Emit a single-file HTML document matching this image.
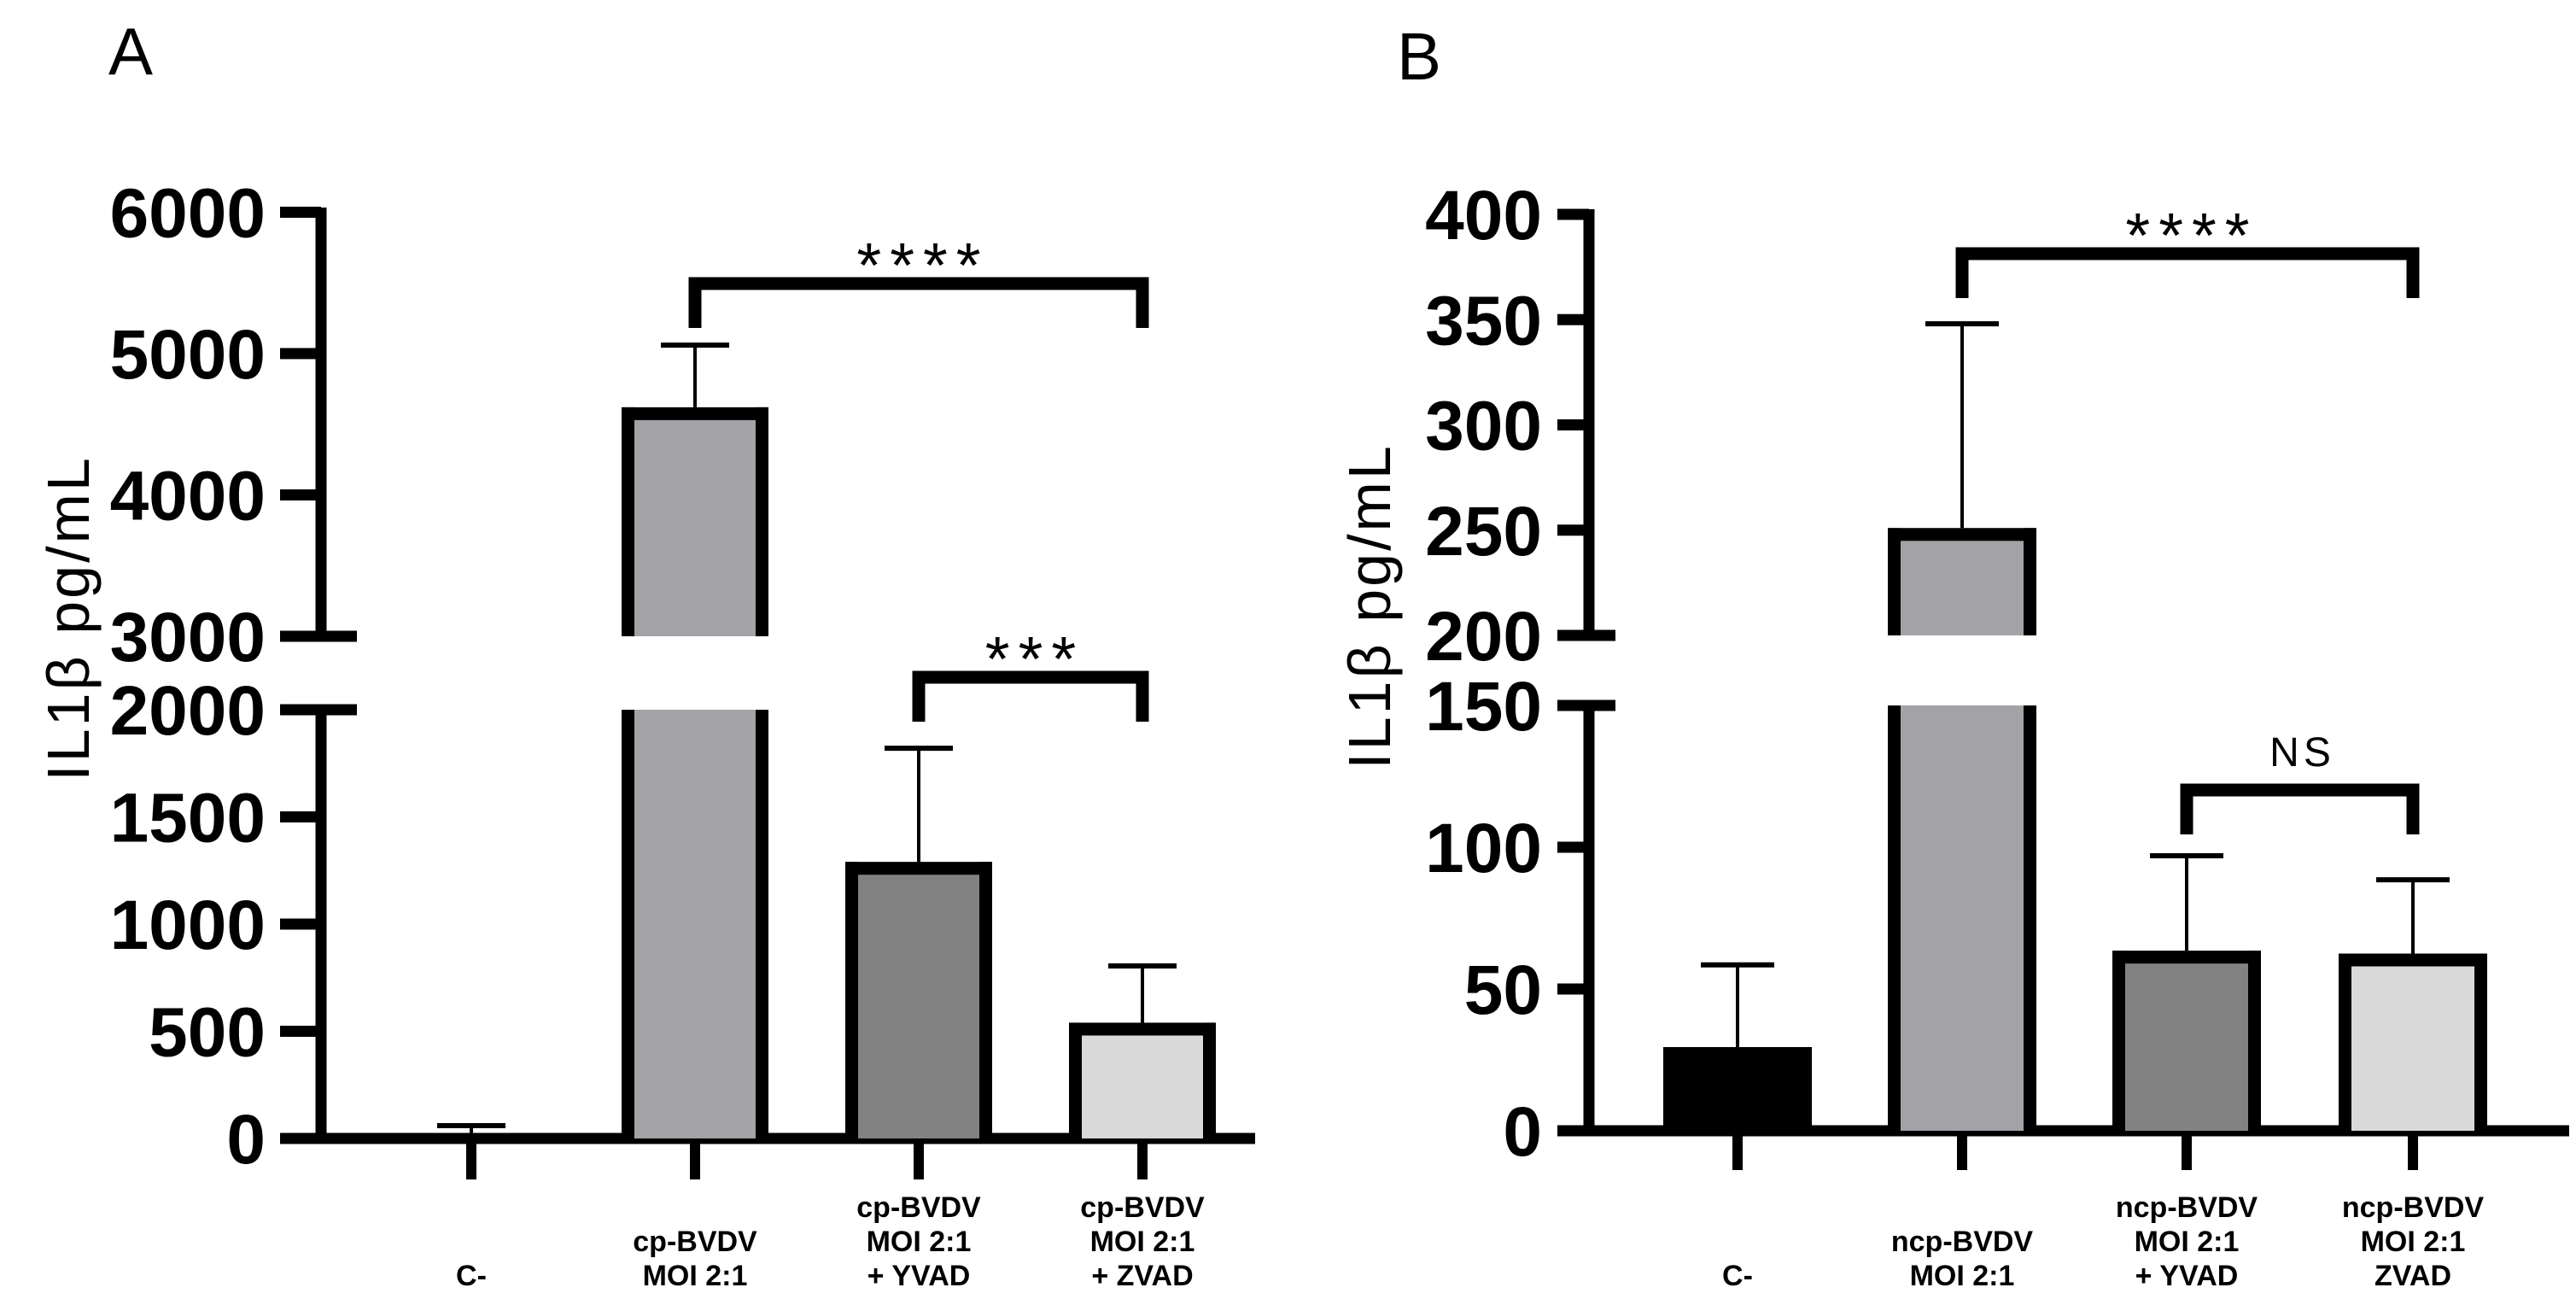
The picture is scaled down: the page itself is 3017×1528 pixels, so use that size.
<!DOCTYPE html>
<html><head><meta charset="utf-8"><style>
html,body{margin:0;padding:0;background:#fff;}
svg{display:block;font-family:"Liberation Sans",Arial,sans-serif;}
</style></head><body>
<svg id="fig" width="3017" height="1528" viewBox="0 0 3017 1528" xmlns="http://www.w3.org/2000/svg">
<text x="127" y="87" font-size="78">A</text>
<text x="1636" y="93" font-size="78">B</text>
<text transform="translate(104,724) rotate(-90)" text-anchor="middle" font-size="70" letter-spacing="3">IL1β pg/mL</text>
<text transform="translate(1628,710) rotate(-90)" text-anchor="middle" font-size="70" letter-spacing="3">IL1β pg/mL</text>
<g id="gA"></g><g id="gB"></g>
</svg>
<script>
// Panel A data
const catsA = [["C-"],["cp-BVDV","MOI 2:1"],["cp-BVDV","MOI 2:1","+ YVAD"],["cp-BVDV","MOI 2:1","+ ZVAD"]];
const valsA = [20, 4620, 1290, 540];
const errA = [60, 5060, 1820, 805];
const ticksA = [0,500,1000,1500,2000,3000,4000,5000,6000];
// Panel B data
const catsB = [["C-"],["ncp-BVDV","MOI 2:1"],["ncp-BVDV","MOI 2:1","+ YVAD"],["ncp-BVDV","MOI 2:1","ZVAD"]];
const valsB = [29.5, 251, 63.5, 62.5];
const errB = [58.5, 348, 97, 88.5];
const ticksB = [0,50,100,150,200,250,300,350,400];
const fills = ["#000000","#a3a2a7","#828282","#d9d9d9"];
const sigA = [[1,3,"****"],[2,3,"***"]];
const sigB = [[1,3,"****"],[2,3,"NS"]];

const NS="http://www.w3.org/2000/svg";
function mk(parent,tag,attrs){const e=document.createElementNS(NS,tag);for(const k in attrs)e.setAttribute(k,attrs[k]);parent.appendChild(e);return e;}

function drawPanel(g, cfg){
  const {cats,vals,errs,ticks,sig,y,axisX,tickL,base,breakLo,breakHi,lowMax,hiMin,topY,xs,bw,xEnd,capW,tickDown,labelX,bracketY} = cfg;
  const LW=13;
  let a=mk(g,'line',{x1:axisX,y1:topY-6,x2:axisX,y2:breakHi,stroke:'#000','stroke-width':LW});
  
  a=mk(g,'line',{x1:axisX,y1:breakLo,x2:axisX,y2:base,stroke:'#000','stroke-width':LW});
  
  a=mk(g,'line',{x1:tickL,y1:base,x2:xEnd,y2:base,stroke:'#000','stroke-width':LW});
  
  ticks.forEach(t=>{
    const ty=y(t);
    const brk=(t===lowMax||t===hiMin);
    const tl=mk(g,'line',{x1:tickL,y1:ty,x2:brk?axisX+(axisX-tickL)-6:axisX,y2:ty,stroke:'#000','stroke-width':LW});
    
    const tx=mk(g,'text',{x:labelX,y:ty+29,'text-anchor':'end','font-size':82,'font-weight':'bold'});
    tx.textContent=t;
    
  });
  vals.forEach((v,i)=>{
    const cx=xs[i], x0=cx-bw/2, x1=cx+bw/2, B=15;
    const bg=mk(g,'g',{});
    
    const ey=y(errs[i]), vy=y(v);
    const e1=mk(bg,'line',{x1:cx,y1:vy,x2:cx,y2:ey,stroke:'#000','stroke-width':4});
    
    const e2=mk(bg,'line',{x1:cx-capW/2,y1:ey,x2:cx+capW/2,y2:ey,stroke:'#000','stroke-width':6});
    
    const broken = v>hiMin;
    const segs = broken ? [[base,breakLo,false],[breakHi,vy,true]] : [[base,vy,true]];
    segs.forEach(([yb,yt,topBorder])=>{
      mk(bg,'rect',{x:x0,y:yt,width:bw,height:Math.max(0,yb-yt),fill:fills[i]});
      mk(bg,'rect',{x:x0,y:yt,width:B,height:Math.max(0,yb-yt),fill:'#000'});
      mk(bg,'rect',{x:x1-B,y:yt,width:B,height:Math.max(0,yb-yt),fill:'#000'});
      if(topBorder) mk(bg,'rect',{x:x0,y:yt,width:bw,height:Math.min(B,yb-yt),fill:'#000'});
    });
    const xt=mk(g,'line',{x1:cx,y1:base,x2:cx,y2:base+tickDown,stroke:'#000','stroke-width':12});
    
    const lab=cats[i], n=lab.length;
    lab.forEach((s,k)=>{
      const t=mk(g,'text',{x:cx,y:1505-(n-1-k)*40,'text-anchor':'middle','font-size':34,'font-weight':'bold'});
      t.textContent=s;
      
    });
  });
  sig.forEach(([i,j,txt],k)=>{
    const by=bracketY[k], xa=xs[i], xb=xs[j];
    const p=mk(g,'polyline',{points:`${xa},${by+52} ${xa},${by} ${xb},${by} ${xb},${by+52}`,fill:'none',stroke:'#000','stroke-width':15});
    
    const isNS = txt==="NS";
    const t=mk(g,'text',{x:(xa+xb)/2+(isNS?3:5),y:isNS?by-28:by+4,'text-anchor':'middle','font-size':isNS?48:74,'letter-spacing':isNS?5:10});
    t.textContent=txt;
    
  });
}

function yA(v){return v<=2000 ? 1333 - v*0.251 : 745 - (v-3000)*0.1655;}
function yB(v){return v<=150 ? 1324 - v*3.32 : 744 - (v-200)*2.465;}

drawPanel(document.getElementById('gA'),{cats:catsA,vals:valsA,errs:errA,ticks:ticksA,sig:sigA,y:yA,
  axisX:376,tickL:328,base:1333,breakLo:831,breakHi:745,lowMax:2000,hiMin:3000,topY:249,
  xs:[552,814,1076,1338],bw:172,xEnd:1470,capW:80,tickDown:48,labelX:311,bracketY:[332,793]});
drawPanel(document.getElementById('gB'),{cats:catsB,vals:valsB,errs:errB,ticks:ticksB,sig:sigB,y:yB,
  axisX:1861,tickL:1824,base:1324,breakLo:826,breakHi:744,lowMax:150,hiMin:200,topY:251,
  xs:[2035,2298,2561,2826],bw:174,xEnd:3009,capW:86,tickDown:46,labelX:1806,bracketY:[297,925]});
</script>
</body></html>
